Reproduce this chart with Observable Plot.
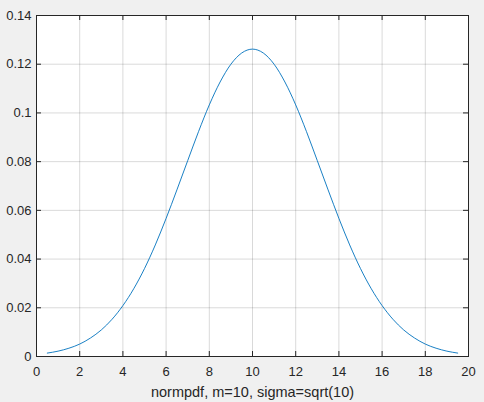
<!DOCTYPE html>
<html>
<head>
<meta charset="utf-8">
<script src="https://cdn.jsdelivr.net/npm/d3@7"></script>
<script src="https://cdn.jsdelivr.net/npm/@observablehq/plot@0.6"></script>
<style>
  html, body { margin: 0; padding: 0; background: #f0f0f0; }
</style>
</head>
<body>
<div id="chart"></div>
<script>
const xValues = [0.5, 1, 1.5, 2, 2.5, 3, 3.5, 4, 4.5, 5, 5.5, 6, 6.5, 7, 7.5, 8, 8.5, 9, 9.5, 10,
  10.5, 11, 11.5, 12, 12.5, 13, 13.5, 14, 14.5, 15, 15.5, 16, 16.5, 17, 17.5, 18, 18.5, 19, 19.5];
const yValues = [0.0014, 0.0022, 0.0034, 0.0051, 0.0076, 0.0109, 0.0153, 0.0209, 0.0278, 0.0361,
  0.0458, 0.0567, 0.0684, 0.0804, 0.0923, 0.1033, 0.1127, 0.1200, 0.1246, 0.1262,
  0.1246, 0.1200, 0.1127, 0.1033, 0.0923, 0.0804, 0.0684, 0.0567, 0.0458, 0.0361,
  0.0278, 0.0209, 0.0153, 0.0109, 0.0076, 0.0051, 0.0034, 0.0022, 0.0014];
const xTicks = [0, 2, 4, 6, 8, 10, 12, 14, 16, 18, 20];
const yTicks = [0, 0.02, 0.04, 0.06, 0.08, 0.1, 0.12, 0.14];
const xLabel = "normpdf, m=10, sigma=sqrt(10)";

const data = xValues.map((x, i) => ({x, y: yValues[i]}));

const W = 484, H = 402, mL = 36, mR = 16, mT = 15, mB = 46;
const fw = W - mL - mR, fh = H - mT - mB;
const ink = "#262626";
const fontFamily = "'Liberation Sans', Arial, Helvetica, sans-serif";

const chart = Plot.plot({
  width: W,
  height: H,
  marginLeft: mL,
  marginRight: mR,
  marginTop: mT,
  marginBottom: mB,
  style: {background: "#f0f0f0", fontFamily, color: ink, overflow: "visible"},
  x: {domain: [0, 20]},
  y: {domain: [0, 0.14]},
  marks: [
    Plot.frame({fill: "white", stroke: null}),
    Plot.gridX(xTicks, {stroke: "#000", strokeOpacity: 0.15, strokeWidth: 1}),
    Plot.gridY(yTicks, {stroke: "#000", strokeOpacity: 0.15, strokeWidth: 1}),
    Plot.line(data, {x: "x", y: "y", stroke: "#0072BD", strokeWidth: 0.9, curve: "monotone-x"}),
    Plot.frame({stroke: ink, strokeWidth: 1}),
    Plot.tickX(xTicks, {x: d => d, stroke: ink, insetTop: fh - 5}),
    Plot.tickX(xTicks, {x: d => d, stroke: ink, insetBottom: fh - 5}),
    Plot.tickY(yTicks, {y: d => d, stroke: ink, insetRight: fw - 5}),
    Plot.tickY(yTicks, {y: d => d, stroke: ink, insetLeft: fw - 5}),
    Plot.axisX(xTicks, {tickSize: 0, tickPadding: 10, fontSize: 13, tickFormat: d => String(d), label: null, fill: ink}),
    Plot.axisY(yTicks, {tickSize: 0, tickPadding: 5, fontSize: 13, tickFormat: d => String(d), label: null, fill: ink}),
    Plot.text([xLabel], {text: d => d, frameAnchor: "bottom", dy: 40, lineAnchor: "bottom", fontSize: 14.5, fill: ink})
  ]
});
document.getElementById("chart").appendChild(chart);
</script>
</body>
</html>
